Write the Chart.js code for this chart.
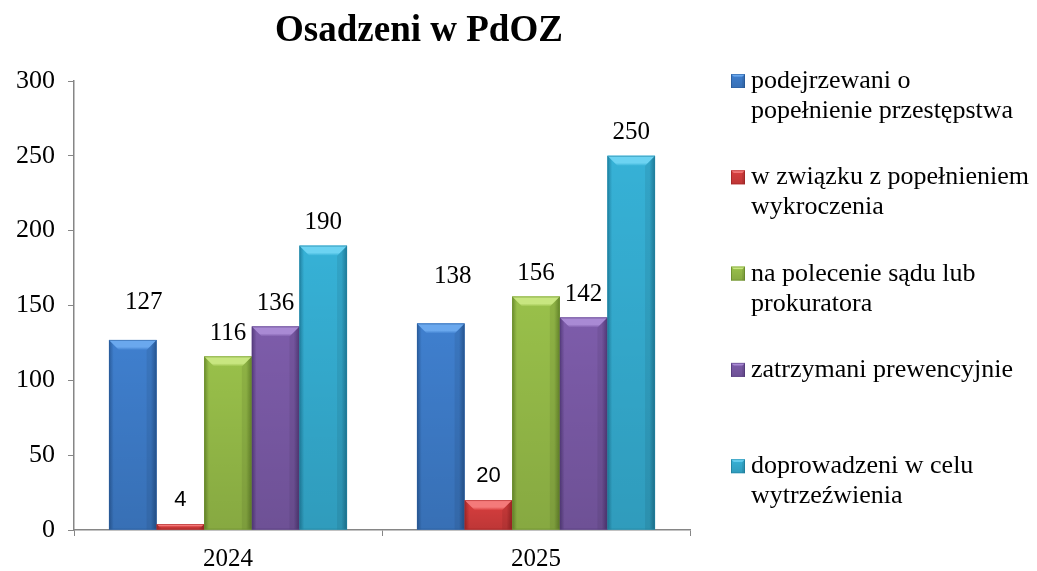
<!DOCTYPE html>
<html lang="pl">
<head>
<meta charset="utf-8">
<title>Osadzeni w PdOZ</title>
<script src="https://cdn.jsdelivr.net/npm/chart.js@4.4.1/dist/chart.umd.min.js"></script>
<style>
  html, body { margin: 0; padding: 0; background: #fff; }
  #wrap { width: 1037px; height: 571px; }
</style>
</head>
<body>
<div id="wrap"><canvas id="chart" width="1037" height="571"></canvas></div>
<script>
// Osadzeni w PdOZ, 2024-2025
const years = ['2024', '2025'];
const seriesNames = [
  'podejrzewani o popełnienie przestępstwa',
  'w związku z popełnieniem wykroczenia',
  'na polecenie sądu lub prokuratora',
  'zatrzymani prewencyjnie',
  'doprowadzeni w celu wytrzeźwienia'
];
const podejrzewani = [127, 138];
const wykroczenie = [4, 20];
const poleceniem = [116, 156];
const prewencyjnie = [136, 142];
const wytrzezwienie = [190, 250];
const yTicks = [0, 50, 100, 150, 200, 250, 300];

const SERIF = '"Liberation Serif", "Times New Roman", serif';
const SANS = '"Liberation Sans", Arial, sans-serif';

// body / lighter top facet / darker edge for each series
const palette = [
  { body: '#3F7FCE', light: '#6AA8EE', dark: '#2A5C9C' },
  { body: '#D83E3E', light: '#F47A7A', dark: '#A52727' },
  { body: '#99C04A', light: '#C8E680', dark: '#6C8E2E' },
  { body: '#7D5CAA', light: '#A98AD4', dark: '#563C7E' },
  { body: '#36B1D6', light: '#6CD3F2', dark: '#2183A3' }
];

// value labels: serif everywhere except the small red series
const labelFonts = [SERIF, SANS, SERIF, SERIF, SERIF];
const labelSizes = [25, 22, 25, 25, 25];
// hand-placed labels (dataset -> index -> [dx, dy])
const labelNudge = { 0: { 0: [11, -14], 1: [12, -24] } };

function paintBevel(ctx, left, right, top, bottom, c, bevel) {
  const w = right - left, h = bottom - top;
  if (w <= 0 || h <= 0) return;
  const b = Math.min(bevel, w / 4, h / 2);
  // body, darker towards both vertical edges
  const g = ctx.createLinearGradient(left, 0, right, 0);
  g.addColorStop(0, c.dark);
  g.addColorStop(0.1, c.body);
  g.addColorStop(0.5, c.body);
  g.addColorStop(0.88, c.body);
  g.addColorStop(1, c.dark);
  ctx.fillStyle = g;
  ctx.fillRect(left, top, w, h);
  // slight darkening towards the base
  const vg = ctx.createLinearGradient(0, top, 0, bottom);
  vg.addColorStop(0, 'rgba(0,0,0,0)');
  vg.addColorStop(1, 'rgba(0,0,0,0.12)');
  ctx.fillStyle = vg;
  ctx.fillRect(left, top, w, h);
  // right side shade below the bevel
  ctx.beginPath();
  ctx.moveTo(right, top);
  ctx.lineTo(right - b, top + b);
  ctx.lineTo(right - b, bottom);
  ctx.lineTo(right, bottom);
  ctx.closePath();
  ctx.fillStyle = 'rgba(0,0,0,0.07)';
  ctx.fill();
  // top facet
  const tg = ctx.createLinearGradient(0, top, 0, top + b);
  tg.addColorStop(0, c.light);
  tg.addColorStop(0.7, c.light);
  tg.addColorStop(1, c.body);
  ctx.beginPath();
  ctx.moveTo(left, top);
  ctx.lineTo(right, top);
  ctx.lineTo(right - b, top + b);
  ctx.lineTo(left + b, top + b);
  ctx.closePath();
  ctx.fillStyle = tg;
  ctx.fill();
  // thin darker rim
  ctx.strokeStyle = c.dark;
  ctx.globalAlpha = 0.55;
  ctx.lineWidth = 1;
  ctx.strokeRect(left + 0.5, top + 0.5, w - 1, h - 1);
  ctx.globalAlpha = 1;
}

const bevelBars = {
  id: 'bevelBars',
  afterDatasetsDraw(chart) {
    const ctx = chart.ctx;
    ctx.save();
    chart.data.datasets.forEach((ds, i) => {
      chart.getDatasetMeta(i).data.forEach(el => {
        const p = el.getProps(['x', 'y', 'base', 'width'], true);
        paintBevel(ctx, p.x - p.width / 2, p.x + p.width / 2, Math.min(p.y, p.base), Math.max(p.y, p.base), palette[i], 10);
      });
    });
    ctx.restore();
  }
};

const valueLabels = {
  id: 'valueLabels',
  afterDatasetsDraw(chart) {
    const ctx = chart.ctx;
    ctx.save();
    ctx.fillStyle = '#000';
    ctx.textAlign = 'center';
    ctx.textBaseline = 'alphabetic';
    chart.data.datasets.forEach((ds, i) => {
      chart.getDatasetMeta(i).data.forEach((el, j) => {
        const p = el.getProps(['x', 'y'], true);
        const n = (labelNudge[i] && labelNudge[i][j]) || [0, 0];
        const size = labelSizes[i];
        ctx.font = size + 'px ' + labelFonts[i];
        const cy = p.y - 25.5 + n[1];
        ctx.fillText(String(ds.data[j]), p.x + n[0], cy + size * 0.345);
      });
    });
    ctx.restore();
  }
};

function wrapText(ctx, text, maxW) {
  const words = text.split(' ');
  const lines = [];
  let line = '';
  words.forEach(w => {
    const test = line ? line + ' ' + w : w;
    if (line && ctx.measureText(test).width > maxW) {
      lines.push(line);
      line = w;
    } else {
      line = test;
    }
  });
  if (line) lines.push(line);
  return lines;
}

const titleAndLegend = {
  id: 'titleAndLegend',
  afterDraw(chart) {
    const ctx = chart.ctx;
    ctx.save();
    ctx.fillStyle = '#000';
    ctx.textAlign = 'center';
    ctx.textBaseline = 'alphabetic';
    ctx.font = 'bold 37px ' + SERIF;
    ctx.fillText('Osadzeni w PdOZ', 419, 41);

    ctx.textAlign = 'left';
    ctx.font = '26px ' + SERIF;
    chart.data.datasets.forEach((ds, i) => {
      const base = 88 + i * 96.3;
      paintBevel(ctx, 731, 745, base - 14, base, palette[i], 3);
      ctx.fillStyle = '#000';
      wrapText(ctx, ds.label, 284).forEach((ln, k) => {
        ctx.fillText(ln, 751, base + k * 30);
      });
    });
    ctx.restore();
  }
};

new Chart(document.getElementById('chart'), {
  type: 'bar',
  data: {
    labels: years,
    datasets: [podejrzewani, wykroczenie, poleceniem, prewencyjnie, wytrzezwienie].map((d, i) => ({
      label: seriesNames[i],
      data: d,
      backgroundColor: palette[i].body,
      borderWidth: 0,
      categoryPercentage: 0.773,
      barPercentage: 1
    }))
  },
  options: {
    responsive: false,
    animation: false,
    layout: { padding: { top: 81, right: 347, left: 0, bottom: 0 } },
    plugins: {
      legend: { display: false },
      title: { display: false },
      tooltip: { enabled: false }
    },
    scales: {
      x: {
        grid: { drawOnChartArea: false, drawTicks: true, tickLength: 6, color: '#868686', offset: true },
        border: { color: '#868686', width: 1.5 },
        ticks: { color: '#000', font: { family: SERIF, size: 25 }, padding: 8 },
        afterFit(s) { s.height = 41; }
      },
      y: {
        min: yTicks[0],
        max: yTicks[yTicks.length - 1],
        afterBuildTicks(s) { s.ticks = yTicks.map(v => ({ value: v })); },
        grid: { drawOnChartArea: false, drawTicks: true, tickLength: 6, color: '#868686' },
        border: { color: '#868686', width: 1.5 },
        ticks: { color: '#000', font: { family: SERIF, size: 26 }, padding: 13 },
        afterFit(s) { s.width = 74; }
      }
    }
  },
  plugins: [bevelBars, valueLabels, titleAndLegend]
});
</script>
</body>
</html>
